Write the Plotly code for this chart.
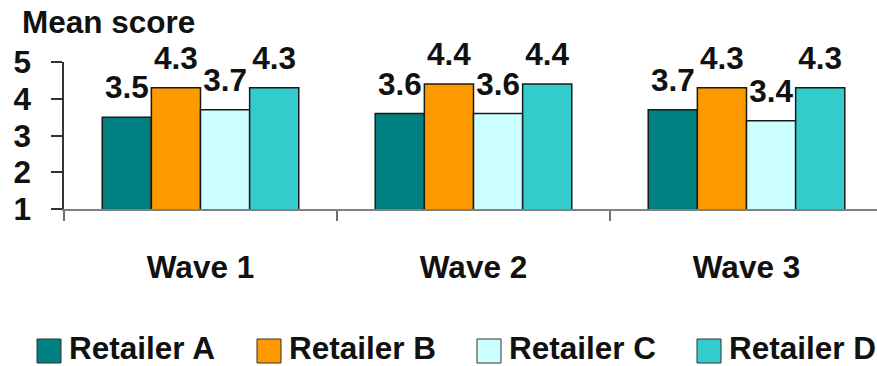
import plotly.graph_objects as go

# ---- data -------------------------------------------------------------
waves = ["Wave 1", "Wave 2", "Wave 3"]
retailers = ["Retailer A", "Retailer B", "Retailer C", "Retailer D"]
retailer_a = [3.5, 3.6, 3.7]
retailer_b = [4.3, 4.4, 4.3]
retailer_c = [3.7, 3.6, 3.4]
retailer_d = [4.3, 4.4, 4.3]
y_ticks = [1, 2, 3, 4, 5]
y_title = "Mean score"

series = [retailer_a, retailer_b, retailer_c, retailer_d]
colors = ["#008080", "#FF9900", "#CCFFFF", "#33CCCC"]

# ---- page geometry (pixels) -------------------------------------------
W, H = 877, 366
ML, MR, MT, MB = 64, 0, 62, 157
PW, PH = W - ML - MR, H - MT - MB
BARGAP = 0.28
FONT = "Liberation Sans, Arial, Helvetica, sans-serif"
FS = 31.5


def px_x(p):
    return (p - ML) / PW


def px_y(p):
    return (H - MB - p) / PH


def bold(size=FS):
    return dict(family=FONT, size=size, color="#111111", weight="bold")


fig = go.Figure()

for name, vals, col in zip(retailers, series, colors):
    fig.add_trace(go.Bar(
        x=waves, y=vals, name=name, offsetgroup=name,
        marker=dict(color=col, line=dict(color="#1a1a1a", width=1.5)),
        showlegend=False, hoverinfo="x+y+name",
    ))

# value labels sit above each bar, grouped the same way as the bars
for name, vals in zip(retailers, series):
    fig.add_trace(go.Scatter(
        x=waves, y=vals, mode="markers+text", offsetgroup=name,
        text=[f"{v:.1f}" for v in vals], textposition="top center",
        textfont=bold(),
        marker=dict(size=16, opacity=0),
        cliponaxis=False, showlegend=False, hoverinfo="skip",
    ))

# category span: the last group runs slightly past the right edge
cat_px = 273.0
x_hi = -0.5 + PW / cat_px

fig.update_xaxes(
    type="category", range=[-0.5, x_hi],
    tickson="boundaries", ticks="outside", ticklen=10, tickwidth=1.5,
    tickcolor="#707070", showline=True, linecolor="#808080", linewidth=1.5,
    showgrid=False, zeroline=False,
    tickfont=bold(), ticklabelstandoff=29,
)
fig.update_yaxes(
    range=[1, 5], tickvals=y_ticks, ticks="outside", ticklen=11, tickwidth=1.5,
    tickcolor="#333333", showline=True, linecolor="#333333", linewidth=1.5,
    showgrid=False, zeroline=False,
    tickfont=bold(), ticklabelstandoff=14,
)

annotations = [dict(
    text=y_title, xref="paper", yref="paper", x=px_x(20), y=px_y(22),
    xanchor="left", yanchor="middle", showarrow=False, font=bold(),
)]
shapes = []

# hand-built legend row along the bottom
for i, (name, col) in enumerate(zip(retailers, colors)):
    x0 = 37 + 220 * i
    shapes.append(dict(
        type="rect", xref="paper", yref="paper",
        x0=px_x(x0), x1=px_x(x0 + 24), y0=px_y(363), y1=px_y(339),
        fillcolor=col, line=dict(color="#333333", width=1),
    ))
    annotations.append(dict(
        text=name, xref="paper", yref="paper", x=px_x(x0 + 30), y=px_y(348),
        xanchor="left", yanchor="middle", showarrow=False, font=bold(),
    ))

fig.update_layout(
    width=W, height=H, autosize=False,
    margin=dict(l=ML, r=MR, t=MT, b=MB, pad=0),
    paper_bgcolor="white", plot_bgcolor="white",
    barmode="group", bargap=BARGAP, bargroupgap=0,
    scattermode="group", scattergap=BARGAP,
    annotations=annotations, shapes=shapes,
    showlegend=False,
)

fig.write_html("out.html")
